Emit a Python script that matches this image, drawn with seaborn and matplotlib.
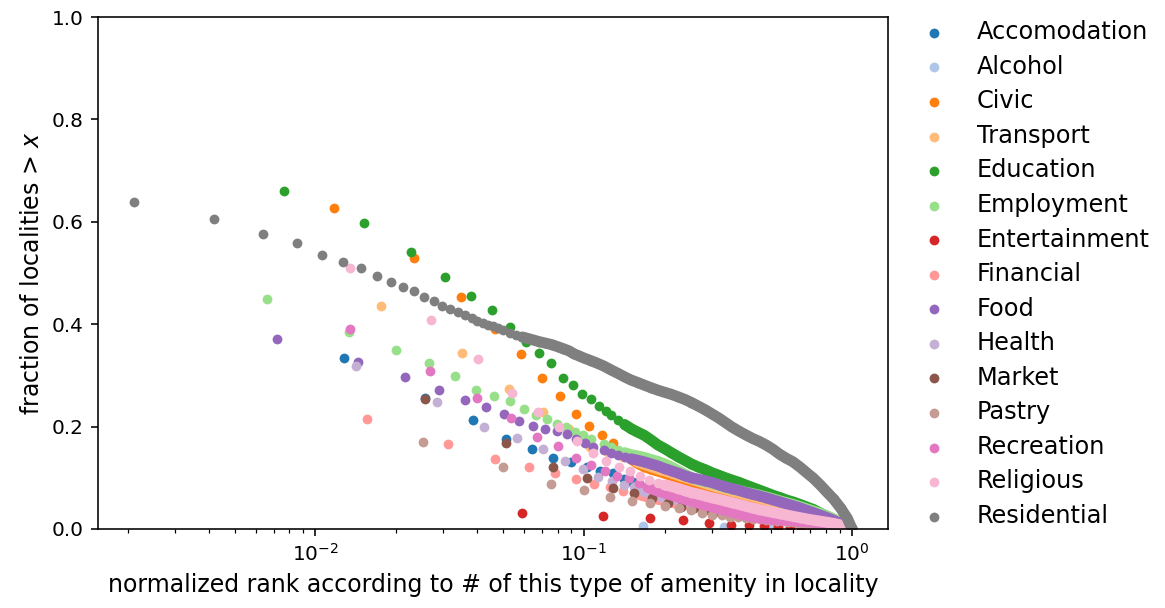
import pandas as pd
import seaborn as sns
import matplotlib.pyplot as plt

amenities = ['Accomodation', 'Alcohol', 'Civic', 'Transport', 'Education',
             'Employment', 'Entertainment', 'Financial', 'Food', 'Health',
             'Market', 'Pastry', 'Recreation', 'Religious', 'Residential']

# shared x positions used where the points merge into a band
dense_x = [0.100, 0.106, 0.112, 0.119, 0.126, 0.134, 0.142, 0.150, 0.159, 0.168,
           0.178, 0.189, 0.200, 0.212, 0.225, 0.238, 0.252, 0.267, 0.283, 0.300,
           0.318, 0.337, 0.357, 0.379, 0.401, 0.425, 0.451, 0.478, 0.506, 0.537,
           0.569, 0.603, 0.639, 0.677, 0.718, 0.761, 0.806, 0.855, 0.906, 0.960, 1.000]

accom_x = [0.0128, 0.0256, 0.0385, 0.0513, 0.0641, 0.0769, 0.0897, 0.1026, 0.1154,
           0.1282, 0.1410, 0.1538, 0.1667, 0.1795, 0.1923] + dense_x[13:]
accom_y = [0.333, 0.256, 0.213, 0.176, 0.157, 0.139, 0.130, 0.122, 0.113,
           0.109, 0.097, 0.089, 0.079, 0.075, 0.070,
           0.066, 0.063, 0.060, 0.057, 0.054, 0.051, 0.048, 0.046, 0.043, 0.041,
           0.038, 0.036, 0.034, 0.032, 0.030, 0.028, 0.026, 0.024, 0.021, 0.019,
           0.017, 0.015, 0.012, 0.010, 0.007, 0.004, 0.002, 0.0]

alcohol_x = [0.1662, 0.3324, 0.4986, 0.6648, 0.8310, 1.0]
alcohol_y = [0.0064, 0.0045, 0.0035, 0.0025, 0.0015, 0.0]

civic_x = [0.0117, 0.0233, 0.0350, 0.0467, 0.0584, 0.0700, 0.0817, 0.0934, 0.1050,
           0.1167, 0.1284, 0.1400] + dense_x[7:]
civic_y = [0.627, 0.529, 0.453, 0.391, 0.342, 0.295, 0.260, 0.225, 0.201,
           0.184, 0.167, 0.148,
           0.137, 0.128, 0.122, 0.117, 0.113, 0.109, 0.1045, 0.0996, 0.0957, 0.0918,
           0.088, 0.084, 0.080, 0.077, 0.074, 0.071, 0.067, 0.064, 0.0605, 0.0576,
           0.0547, 0.0518, 0.0488, 0.0459, 0.043, 0.040, 0.0371, 0.033, 0.029, 0.0244,
           0.0186, 0.0127, 0.006, 0.0]

transport_x = [0.0176, 0.0351, 0.0527, 0.0702, 0.0878, 0.1054, 0.1229, 0.1405, 0.1580,
               0.1756, 0.1932, 0.2107, 0.2283, 0.2458] + dense_x[17:]
transport_y = [0.435, 0.344, 0.274, 0.229, 0.195, 0.160, 0.150, 0.140, 0.131,
               0.123, 0.116, 0.110, 0.104, 0.099,
               0.093, 0.089, 0.085, 0.081, 0.078, 0.074, 0.071, 0.067, 0.064, 0.060,
               0.057, 0.053, 0.050, 0.046, 0.043, 0.039, 0.035, 0.031, 0.027, 0.022,
               0.017, 0.011, 0.006, 0.0]

educ_x = [0.0076, 0.0152, 0.0227, 0.0303, 0.0379, 0.0455, 0.0531, 0.0607, 0.0682,
          0.0758, 0.0834, 0.0910, 0.0986, 0.1062, 0.1137, 0.1213] + dense_x[4:]
educ_y = [0.661, 0.597, 0.541, 0.492, 0.456, 0.428, 0.394, 0.365, 0.344,
          0.324, 0.294, 0.281, 0.263, 0.253, 0.240, 0.231,
          0.223, 0.213, 0.204, 0.196, 0.189, 0.183, 0.174, 0.164, 0.157, 0.149,
          0.141, 0.134, 0.127, 0.121, 0.116, 0.110, 0.105, 0.100, 0.0955, 0.091,
          0.086, 0.081, 0.076, 0.071, 0.066, 0.0615, 0.0566, 0.0527, 0.048, 0.043,
          0.038, 0.031, 0.025, 0.0185, 0.012, 0.006, 0.0]

employ_x = [0.0066, 0.0133, 0.0199, 0.0265, 0.0332, 0.0398, 0.0464, 0.0530, 0.0597,
            0.0663, 0.0729, 0.0796, 0.0862, 0.0928, 0.0995, 0.1061] + dense_x[3:]
employ_y = [0.450, 0.385, 0.350, 0.324, 0.298, 0.272, 0.260, 0.249, 0.234,
            0.223, 0.214, 0.205, 0.200, 0.190, 0.184, 0.175,
            0.166, 0.160, 0.154, 0.149, 0.145, 0.1426, 0.1396, 0.1357, 0.1318, 0.127,
            0.121, 0.114, 0.107, 0.1006, 0.096, 0.093, 0.0895, 0.0855, 0.0815, 0.078,
            0.0752, 0.0718, 0.069, 0.066, 0.0625, 0.059, 0.055, 0.0515, 0.0478, 0.0438,
            0.0395, 0.035, 0.0305, 0.0255, 0.0195, 0.013, 0.006, 0.0]

entert_x = [0.0588, 0.1176, 0.1764, 0.2352, 0.2940, 0.3528, 0.4116, 0.4704, 0.5292,
            0.5880, 0.6468, 0.7056, 0.7644, 0.8232, 0.8820, 0.9408, 1.0]
entert_y = [0.0318, 0.0254, 0.0209, 0.0176, 0.0111, 0.0084, 0.0068, 0.0053, 0.0039,
            0.0033, 0.0030, 0.0023, 0.0020, 0.0016, 0.0010, 0.0006, 0.0]

financ_x = [0.0156, 0.0312, 0.0468, 0.0624, 0.0781, 0.0937, 0.1093, 0.1249, 0.1405,
            0.1561, 0.1717, 0.1873, 0.2029, 0.2185] + dense_x[15:]
financ_y = [0.215, 0.165, 0.137, 0.1205, 0.109, 0.097, 0.088, 0.0826, 0.075,
            0.069, 0.063, 0.0586, 0.0547, 0.051,
            0.048, 0.046, 0.044, 0.042, 0.040, 0.038, 0.036, 0.034, 0.032, 0.030,
            0.028, 0.026, 0.025, 0.023, 0.021, 0.019, 0.017, 0.015, 0.013, 0.011,
            0.009, 0.007, 0.005, 0.003, 0.0015, 0.0]

food_x = [0.0072, 0.0144, 0.0216, 0.0288, 0.0360, 0.0432, 0.0504, 0.0576, 0.0648,
          0.0720, 0.0792, 0.0864, 0.0936, 0.1008, 0.1080] + dense_x[3:]
food_y = [0.372, 0.327, 0.297, 0.271, 0.252, 0.238, 0.225, 0.211, 0.201,
          0.195, 0.191, 0.185, 0.175, 0.167, 0.161,
          0.154, 0.149, 0.145, 0.141, 0.137, 0.134, 0.131, 0.127, 0.123, 0.118,
          0.1137, 0.109, 0.104, 0.100, 0.0973, 0.0941, 0.0908, 0.0865, 0.0822, 0.0787,
          0.0752, 0.0713, 0.0678, 0.0646, 0.0609, 0.057, 0.0531, 0.0492, 0.0453, 0.0412,
          0.0365, 0.0318, 0.0271, 0.0223, 0.0168, 0.0107, 0.0049, 0.0]

health_x = [0.0141, 0.0283, 0.0424, 0.0566, 0.0707, 0.0848, 0.0990, 0.1131, 0.1273,
            0.1414, 0.1555, 0.1697, 0.1838, 0.1980] + dense_x[13:]
health_y = [0.318, 0.248, 0.200, 0.177, 0.156, 0.133, 0.117, 0.102, 0.094,
            0.086, 0.081, 0.073, 0.068, 0.063,
            0.060, 0.057, 0.054, 0.051, 0.048, 0.046, 0.043, 0.041, 0.039, 0.037,
            0.035, 0.033, 0.031, 0.029, 0.027, 0.025, 0.023, 0.021, 0.019, 0.017,
            0.015, 0.013, 0.011, 0.009, 0.007, 0.004, 0.002, 0.0]

market_x = [0.0257, 0.0513, 0.0770, 0.1027, 0.1284, 0.1540, 0.1797, 0.2054, 0.2310, 0.2567,
            0.2824, 0.3080, 0.3337, 0.3594, 0.3851, 0.4107, 0.4364, 0.4621, 0.4877, 0.5134,
            0.5391, 0.5647, 0.5904, 0.6161, 0.6418, 0.6674, 0.6931, 0.7188, 0.7444, 0.7701,
            0.7958, 0.8214, 0.8471, 0.8728, 0.8985, 0.9241, 0.9498, 0.9755, 1.0]
market_y = [0.253, 0.167, 0.121, 0.099, 0.0795, 0.0697, 0.060, 0.050, 0.0436, 0.040,
            0.037, 0.034, 0.032, 0.030, 0.028, 0.026, 0.025, 0.023, 0.022, 0.020,
            0.019, 0.018, 0.017, 0.016, 0.015, 0.014, 0.013, 0.012, 0.011, 0.010,
            0.009, 0.008, 0.007, 0.006, 0.005, 0.004, 0.003, 0.002, 0.0]

pastry_x = [0.0251, 0.0502, 0.0753, 0.1004, 0.1256, 0.1507, 0.1758, 0.2009, 0.2260, 0.2511,
            0.2762, 0.3013, 0.3264, 0.3515, 0.3767, 0.4018, 0.4269, 0.4520, 0.4771, 0.5022,
            0.5273, 0.5524, 0.5775, 0.6026, 0.6278, 0.6529, 0.6780, 0.7031, 0.7282, 0.7533,
            0.7784, 0.8035, 0.8286, 0.8537, 0.8789, 0.9040, 0.9291, 0.9542, 0.9793, 1.0]
pastry_y = [0.169, 0.1205, 0.088, 0.076, 0.063, 0.0553, 0.050, 0.045, 0.0416, 0.037,
            0.0318, 0.028, 0.0264, 0.024, 0.0225, 0.0205, 0.0195, 0.0186, 0.0176, 0.0166,
            0.0156, 0.0146, 0.0137, 0.0127, 0.0117, 0.0107, 0.0098, 0.0088, 0.0078, 0.0068,
            0.0059, 0.0049, 0.0044, 0.0039, 0.0029, 0.0024, 0.0019, 0.0015, 0.0010, 0.0]

recre_x = [0.0134, 0.0267, 0.0401, 0.0534, 0.0668, 0.0801, 0.0935, 0.1068, 0.1202,
           0.1335, 0.1469, 0.1602, 0.1736, 0.1869, 0.2003] + dense_x[13:]
recre_y = [0.391, 0.309, 0.256, 0.217, 0.179, 0.163, 0.139, 0.125, 0.114,
           0.1035, 0.099, 0.089, 0.081, 0.075, 0.070,
           0.0664, 0.0621, 0.0582, 0.0543, 0.0508, 0.0471, 0.0436, 0.040, 0.0365, 0.0332,
           0.0299, 0.027, 0.0242, 0.0219, 0.0203, 0.0191, 0.018, 0.017, 0.016, 0.015,
           0.0143, 0.0137, 0.0129, 0.0117, 0.0098, 0.0068, 0.0039, 0.0]

relig_x = [0.0135, 0.0270, 0.0405, 0.0540, 0.0675, 0.0810, 0.0945, 0.1080, 0.1215,
           0.1350, 0.1485, 0.1620, 0.1755, 0.1890] + dense_x[12:]
relig_y = [0.510, 0.408, 0.332, 0.266, 0.229, 0.200, 0.171, 0.149, 0.133,
           0.122, 0.114, 0.1035, 0.0957, 0.089,
           0.086, 0.083, 0.079, 0.075, 0.071, 0.068, 0.0645, 0.061, 0.058, 0.0547,
           0.0514, 0.0479, 0.0445, 0.041, 0.0379, 0.0352, 0.0324, 0.0299, 0.0273, 0.0246,
           0.0221, 0.0195, 0.0172, 0.0152, 0.0131, 0.0107, 0.0078, 0.0039, 0.0]

resid_x = [0.0021, 0.0042, 0.0064, 0.0085, 0.0106, 0.0127, 0.0148, 0.0170, 0.0191,
           0.0212, 0.0233, 0.0254, 0.0276, 0.0297, 0.0318, 0.0339, 0.0360, 0.0382,
           0.040, 0.042, 0.044, 0.046, 0.048, 0.050, 0.053, 0.056, 0.059, 0.062,
           0.065, 0.068, 0.072, 0.076, 0.080, 0.084, 0.088, 0.092, 0.096] + dense_x
resid_y = [0.639, 0.606, 0.576, 0.559, 0.536, 0.521, 0.510, 0.494, 0.482,
           0.472, 0.465, 0.454, 0.446, 0.436, 0.430, 0.424, 0.418, 0.413,
           0.406, 0.403, 0.399, 0.396, 0.392, 0.388, 0.382, 0.378, 0.375, 0.372,
           0.369, 0.366, 0.363, 0.360, 0.356, 0.352, 0.348, 0.342, 0.338,
           0.334, 0.329, 0.324, 0.318, 0.311, 0.304, 0.297, 0.291, 0.286, 0.281,
           0.276, 0.271, 0.267, 0.263, 0.258, 0.253, 0.247, 0.240, 0.233, 0.225,
           0.217, 0.208, 0.199, 0.191, 0.184, 0.177, 0.171, 0.164, 0.156, 0.146,
           0.138, 0.131, 0.121, 0.110, 0.099, 0.086, 0.072, 0.058, 0.041, 0.021, 0.0]

series = [(accom_x, accom_y), (alcohol_x, alcohol_y), (civic_x, civic_y),
          (transport_x, transport_y), (educ_x, educ_y), (employ_x, employ_y),
          (entert_x, entert_y), (financ_x, financ_y), (food_x, food_y),
          (health_x, health_y), (market_x, market_y), (pastry_x, pastry_y),
          (recre_x, recre_y), (relig_x, relig_y), (resid_x, resid_y)]

# from this rank on the points of a type sit so close they form a solid band
band_from = {'Accomodation': 0.15, 'Civic': 0.15, 'Transport': 0.15,
             'Education': 0.14, 'Employment': 0.14, 'Financial': 0.15,
             'Food': 0.15, 'Health': 0.15, 'Recreation': 0.17,
             'Religious': 0.19, 'Residential': 0.059}

colors = sns.color_palette('tab20', 15)
size = 24

fig, ax = plt.subplots(figsize=(1165 / 144, 608 / 144), dpi=144)
for name, (xs, ys), c in zip(amenities, series, colors):
    sns.scatterplot(x=xs, y=ys, color=c, s=size, linewidth=0, label=name,
                    zorder=2, ax=ax)
    if name in band_from:
        bx = [x for x in xs if x >= band_from[name]]
        by = ys[len(xs) - len(bx):]
        ax.plot(bx, by, color=c, lw=5.5, solid_capstyle='round',
                solid_joinstyle='round', zorder=2)

ax.set_xscale('log')
ax.set_ylim(0, 1)
ax.set_xlabel('normalized rank according to # of this type of amenity in locality',
              fontsize=11.8)
ax.set_ylabel('fraction of localities > $x$', fontsize=11.8)
ax.legend(loc='upper left', bbox_to_anchor=(1.0, 1.036), frameon=False,
          fontsize=12, labelspacing=0.44)

fig.subplots_adjust(left=0.0839, right=0.7622, top=0.972, bottom=0.13)
fig.savefig('out.png', dpi=144)
